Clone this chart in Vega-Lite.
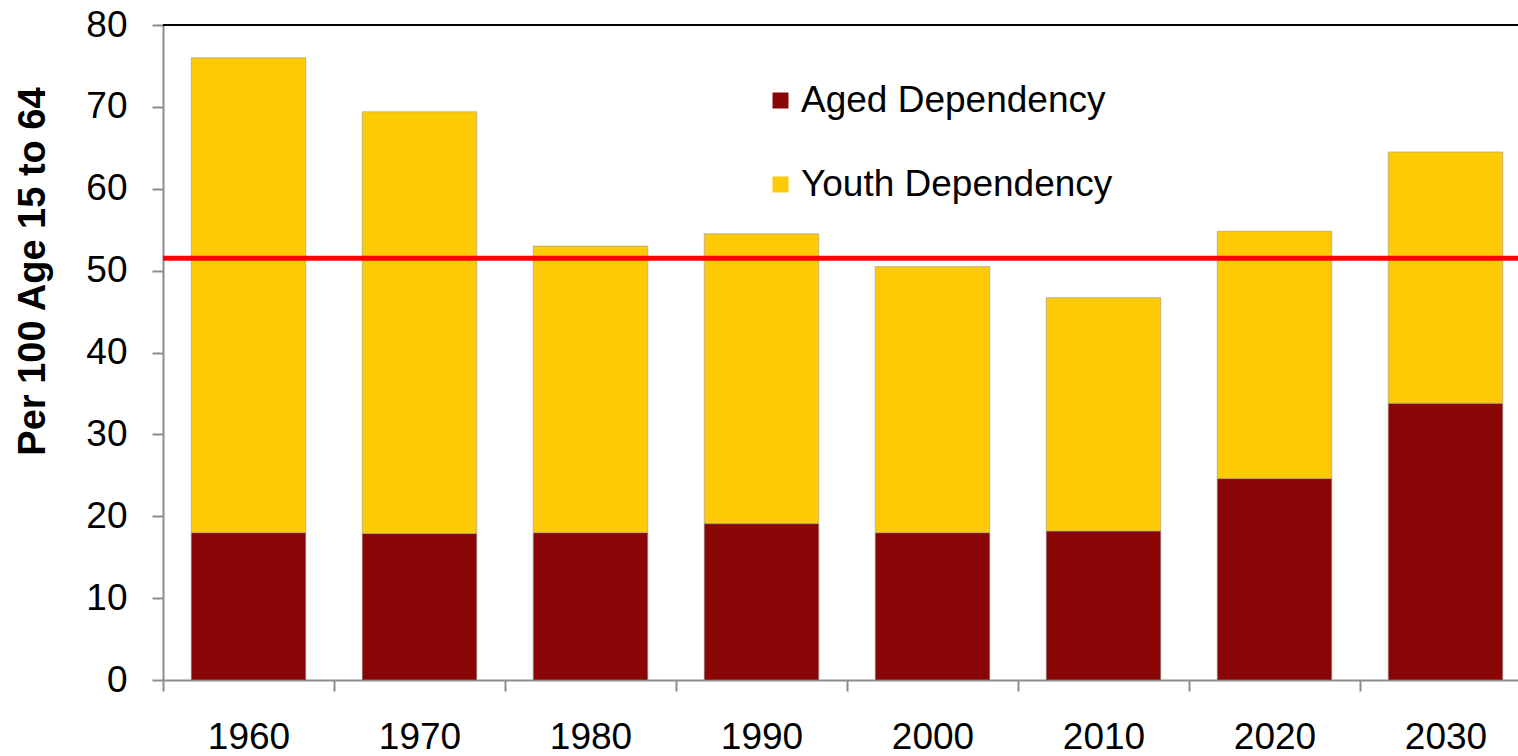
{
  "$schema": "https://vega.github.io/schema/vega-lite/v6.json",
  "autosize": {"type": "none"},
  "width": 1355,
  "height": 655,
  "padding": {"left": 163, "top": 25, "right": 0, "bottom": 76},
  "background": "white",
  "config": {"font": "Liberation Sans", "view": {"stroke": null}},
  "datasets": {
    "bars": [
      {"year": "1960", "series": "Aged Dependency", "value": 18.0},
      {"year": "1960", "series": "Youth Dependency", "value": 58.0},
      {"year": "1970", "series": "Aged Dependency", "value": 17.9},
      {"year": "1970", "series": "Youth Dependency", "value": 51.5},
      {"year": "1980", "series": "Aged Dependency", "value": 18.0},
      {"year": "1980", "series": "Youth Dependency", "value": 35.0},
      {"year": "1990", "series": "Aged Dependency", "value": 19.1},
      {"year": "1990", "series": "Youth Dependency", "value": 35.4},
      {"year": "2000", "series": "Aged Dependency", "value": 18.0},
      {"year": "2000", "series": "Youth Dependency", "value": 32.5},
      {"year": "2010", "series": "Aged Dependency", "value": 18.2},
      {"year": "2010", "series": "Youth Dependency", "value": 28.5},
      {"year": "2020", "series": "Aged Dependency", "value": 24.6},
      {"year": "2020", "series": "Youth Dependency", "value": 30.2},
      {"year": "2030", "series": "Aged Dependency", "value": 33.8},
      {"year": "2030", "series": "Youth Dependency", "value": 30.7}
    ],
    "lines": [
      {"level": 80, "kind": "frame"},
      {"level": 51.5, "kind": "threshold"}
    ]
  },
  "layer": [
    {
      "data": {"name": "bars"},
      "mark": {"type": "bar", "stroke": "#9a9a9a", "strokeWidth": 1, "strokeOpacity": 0.6, "width": {"band": 0.67}},
      "encoding": {
        "x": {
          "field": "year",
          "type": "ordinal",
          "scale": {"range": [0, 1368], "paddingInner": 0, "paddingOuter": 0},
          "axis": {
            "title": null,
            "labelAngle": 0,
            "labelFontSize": 37,
            "labelColor": "black",
            "labelBaseline": "alphabetic",
            "labelPadding": 57,
            "tickBand": "extent",
            "tickSize": 11,
            "tickWidth": 2,
            "tickColor": "#8c8c8c",
            "domainColor": "#8c8c8c",
            "domainWidth": 2
          }
        },
        "y": {
          "field": "value",
          "type": "quantitative",
          "stack": "zero",
          "scale": {"domain": [0, 80], "nice": false},
          "axis": {
            "title": "Per 100 Age 15 to 64",
            "titleFontSize": 38,
            "titleFontWeight": "bold",
            "titleColor": "black",
            "titleAngle": 270,
            "titleAlign": "center",
            "titleBaseline": "alphabetic",
            "titleX": -119,
            "titleY": 246,
            "values": [0, 10, 20, 30, 40, 50, 60, 70, 80],
            "grid": false,
            "labelFontSize": 37,
            "labelColor": "black",
            "labelPadding": 25,
            "tickSize": 11,
            "tickWidth": 2,
            "tickColor": "#8c8c8c",
            "domainColor": "#8c8c8c",
            "domainWidth": 2
          }
        },
        "order": {"field": "series", "sort": "ascending"},
        "color": {
          "field": "series",
          "type": "nominal",
          "scale": {"domain": ["Aged Dependency", "Youth Dependency"], "range": ["#8a0606", "#fdcb05"]},
          "legend": {
            "title": null,
            "orient": "none",
            "legendX": 599,
            "legendY": 57,
            "symbolType": "square",
            "symbolSize": 256,
            "symbolStrokeWidth": 0,
            "labelFontSize": 37,
            "labelColor": "black",
            "labelOffset": 2,
            "labelLimit": 600,
            "rowPadding": 46
          }
        }
      }
    },
    {
      "data": {"name": "lines"},
      "transform": [{"filter": "datum.kind === 'frame'"}],
      "mark": {"type": "rule", "color": "black", "strokeWidth": 2},
      "encoding": {"y": {"field": "level", "type": "quantitative"}}
    },
    {
      "data": {"name": "lines"},
      "transform": [{"filter": "datum.kind === 'threshold'"}],
      "mark": {"type": "rule", "color": "#ff0000", "strokeWidth": 5},
      "encoding": {"y": {"field": "level", "type": "quantitative"}}
    }
  ]
}
